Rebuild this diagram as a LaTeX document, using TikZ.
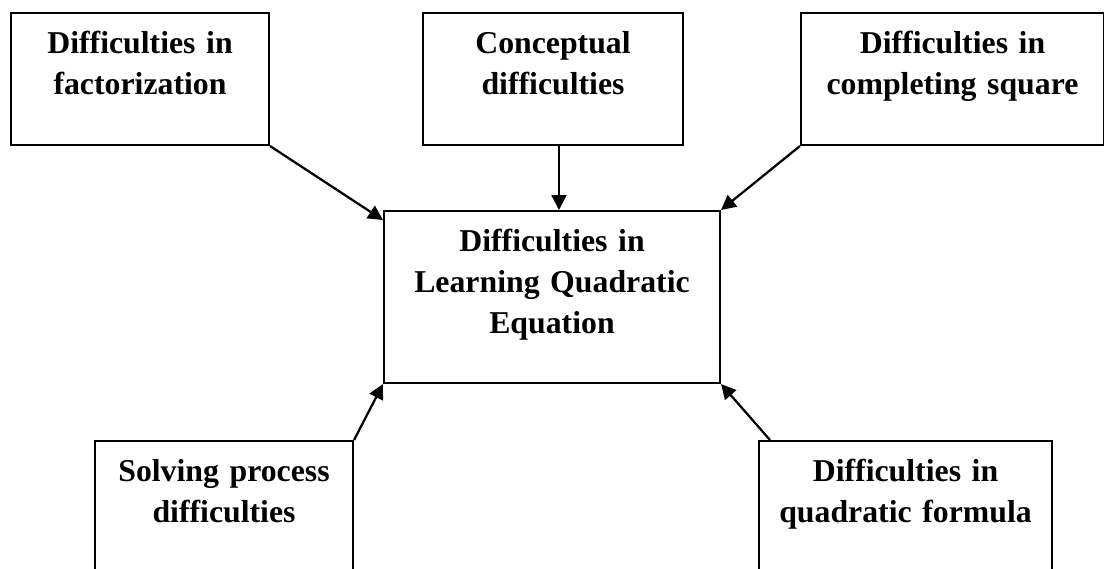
\documentclass[tikz,border=0pt]{standalone}
\usepackage{fontspec}
\setmainfont{Liberation Serif}
\usetikzlibrary{arrows.meta}
\tikzset{
  box/.style={draw, line width=1.4pt, anchor=north, inner sep=0pt, align=center,
    font=\fontsize{22.6}{29.5}\selectfont\bfseries, text height=1cm},
  arr/.style={line width=1.6pt, -{Triangle[length=10.5pt,width=10.5pt]}}
}
\begin{document}
\begin{tikzpicture}[x=0.025cm, y=-0.025cm]
  \path[use as bounding box, clip] (0,0) rectangle (1104,568);
  % outer boxes
  \node[box, text width=6.45cm, text depth=2.3cm] (fact) at (140,12) {Difficulties in\\factorization};
  \node[box, text width=6.5cm, text depth=2.3cm] (concept) at (553,12) {Conceptual\\difficulties};
  \node[box, text width=7.575cm, text depth=2.3cm] (square) at (952.5,12) {Difficulties in\\completing square};
  \node[box, text width=6.45cm, text depth=2.6cm] (solve) at (224,440) {Solving process\\difficulties};
  \node[box, text width=7.325cm, text depth=2.6cm] (qform) at (905.5,440) {Difficulties in\\quadratic formula};
  % centre box
  \node[box, text width=8.4cm, text depth=3.3cm] (main) at (552,210) {Difficulties in\\Learning Quadratic\\Equation};
  \draw[arr] (fact.south east) -- ([yshift=-0.25cm]main.north west);
  \draw[arr] ([xshift=0.15cm]concept.south) -- ([xshift=0.15cm]concept.south |- main.north);
  \draw[arr] (square.south west) -- (main.north east);
  \draw[arr] (solve.north east) -- (main.south west);
  \draw[arr] ([xshift=0.3cm]qform.north west) -- (main.south east);
\end{tikzpicture}
\end{document}
